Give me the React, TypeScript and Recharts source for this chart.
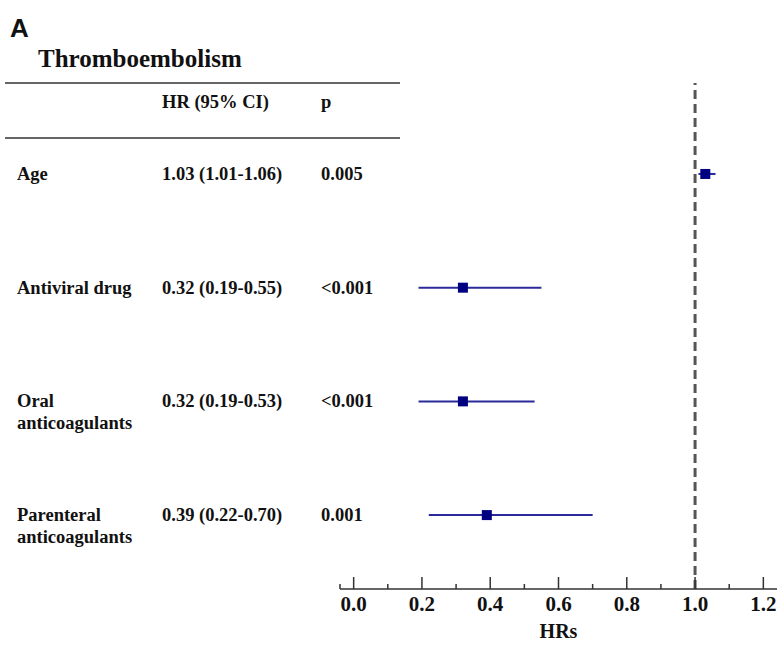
import { ScatterChart, Scatter, XAxis, YAxis, ErrorBar, ReferenceLine, Label } from "recharts"

const rowLabels = [["Age"], ["Antiviral drug"], ["Oral", "anticoagulants"], ["Parenteral", "anticoagulants"]]
const hrValues = [1.03, 0.32, 0.32, 0.39]
const ciLow = [1.01, 0.19, 0.19, 0.22]
const ciHigh = [1.06, 0.55, 0.53, 0.7]
const pValues = ["0.005", "<0.001", "<0.001", "0.001"]
const majorTicks = [0, 0.2, 0.4, 0.6, 0.8, 1.0, 1.2]
const minorTicks = [-0.04, 0.1, 0.3, 0.5, 0.7, 0.9, 1.1]

const data = hrValues.map((hr, i) => ({
    row: i,
    hr,
    err: [hr - ciLow[i], ciHigh[i] - hr],
}))

const serif = "'Liberation Serif', 'Times New Roman', serif"

const RowTick = (props: any) => {
    const { y, payload } = props
    const i = payload.value
    const lines = rowLabels[i]
    return (
        <g fontFamily={serif} fontWeight="bold" fontSize={18.5} fill="#111">
            {lines.map((l, k) => (
                <text key={k} x={17} y={y + k * 22} dominantBaseline="central">
                    {l}
                </text>
            ))}
            <text x={162} y={y} dominantBaseline="central">
                {`${hrValues[i].toFixed(2)} (${ciLow[i].toFixed(2)}-${ciHigh[i].toFixed(2)})`}
            </text>
            <text x={321} y={y} dominantBaseline="central">
                {pValues[i]}
            </text>
        </g>
    )
}

const HrTick = (props: any) => {
    const { x, y, payload } = props
    const v = payload.value
    const major = majorTicks.some((t) => Math.abs(t - v) < 1e-6)
    return (
        <g>
            <line x1={x} x2={x} y1={y} y2={y - (major ? 12 : 5)} stroke="#333" strokeWidth={1.5} />
            {major && (
                <text
                    x={x}
                    y={y + 15}
                    textAnchor="middle"
                    dominantBaseline="central"
                    fontFamily={serif}
                    fontWeight="bold"
                    fontSize={21}
                    fill="#111"
                >
                    {v.toFixed(1)}
                </text>
            )}
        </g>
    )
}

const Square = (props: any) => {
    const { cx, cy } = props
    return <rect x={cx - 5} y={cy - 5} width={10} height={10} fill="#000080" />
}

export default function App() {
    return (
        <div style={{ position: "absolute", left: 0, top: 0, width: 777, height: 652, background: "#fff" }}>
            <ScatterChart width={777} height={652} margin={{ top: 83, right: 0, bottom: 0, left: 0 }}>
                <XAxis
                    type="number"
                    dataKey="hr"
                    domain={[-0.04, 1.24]}
                    ticks={[...majorTicks, ...minorTicks].sort((a, b) => a - b)}
                    allowDataOverflow
                    height={63}
                    tickSize={0}
                    tickMargin={0}
                    tickLine={false}
                    axisLine={{ stroke: "#333", strokeWidth: 1.5 }}
                    tick={<HrTick />}
                    interval={0}
                >
                    <Label
                        value="HRs"
                        position="insideBottom"
                        offset={14}
                        style={{ fontFamily: serif, fontWeight: "bold", fontSize: 20, fill: "#111" }}
                    />
                </XAxis>
                <YAxis
                    type="number"
                    dataKey="row"
                    domain={[-0.8, 3.65]}
                    ticks={[0, 1, 2, 3]}
                    reversed
                    width={340}
                    axisLine={false}
                    tickLine={false}
                    tick={<RowTick />}
                    interval={0}
                />
                <ReferenceLine x={1} stroke="#555" strokeWidth={3} strokeDasharray="9 5" />
                <Scatter data={data} shape={<Square />} isAnimationActive={false}>
                    <ErrorBar dataKey="err" direction="x" width={0} stroke="#2a2a9a" strokeWidth={2} />
                </Scatter>
            </ScatterChart>
            <svg
                width={777}
                height={160}
                style={{ position: "absolute", left: 0, top: 0, pointerEvents: "none" }}
            >
                <text x={10} y={37} fontFamily="'Liberation Sans', Arial, sans-serif" fontWeight="bold" fontSize={26} fill="#111">
                    A
                </text>
                <text x={38} y={67} fontFamily={serif} fontWeight="bold" fontSize={25} fill="#111">
                    Thromboembolism
                </text>
                <line x1={5} x2={400} y1={83} y2={83} stroke="#666" strokeWidth={2} />
                <line x1={5} x2={400} y1={138} y2={138} stroke="#666" strokeWidth={2} />
                <g fontFamily={serif} fontWeight="bold" fontSize={18.5} fill="#111">
                    <text x={162} y={102} dominantBaseline="central">
                        HR (95% CI)
                    </text>
                    <text x={321} y={102} dominantBaseline="central">
                        p
                    </text>
                </g>
            </svg>
        </div>
    )
}
